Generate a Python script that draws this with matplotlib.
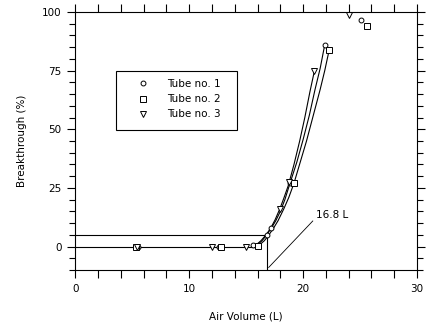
import matplotlib
matplotlib.use("Agg")
import matplotlib.pyplot as plt
from matplotlib.ticker import MultipleLocator
from matplotlib.patches import Rectangle

plt.rcParams['font.family'] = ['DejaVu Sans']
plt.rcParams['font.size'] = 7.5

# measured points
tube1_x = [5.5, 12.6, 15.6, 16.8, 17.15, 18.85, 21.9, 25.1]
tube1_y = [0.0, -0.3, 0.5, 5.1, 7.8, 27.2, 85.9, 96.7]
tube2_x = [5.3, 12.8, 16.0, 19.2, 22.3, 25.6]
tube2_y = [-0.3, -0.3, 0.3, 27.0, 84.0, 94.0]
tube3_x = [5.4, 12.0, 15.0, 17.95, 18.8, 21.0, 24.0]
tube3_y = [0.0, -0.2, 0.0, 16.2, 27.5, 75.0, 98.7]

# fitted curves
fit1_x = [15.6, 16.0, 16.4, 16.8, 17.2, 17.6, 18.0, 18.4, 18.85, 19.45, 20.0, 20.55, 21.05, 21.5, 21.9]
fit1_y = [0.0, 0.8, 2.5, 5.0, 7.8, 11.0, 15.0, 20.0, 27.0, 36.0, 45.6, 56.0, 67.0, 76.0, 86.0]
fit2_x = [15.8, 16.2, 16.6, 17.0, 17.4, 17.8, 18.3, 18.75, 19.2, 19.75, 20.3, 20.9, 21.5, 21.9, 22.3]
fit2_y = [0.0, 0.8, 2.5, 5.0, 7.8, 11.0, 16.0, 21.0, 27.0, 36.0, 45.0, 56.0, 67.0, 75.0, 84.0]
fit3_x = [15.5, 15.9, 16.3, 16.75, 17.15, 17.55, 17.95, 18.3, 18.7, 19.2, 19.7, 20.15, 20.6, 21.0]
fit3_y = [0.0, 0.8, 2.5, 5.0, 7.8, 11.5, 16.0, 20.5, 26.0, 35.0, 45.0, 55.0, 66.0, 75.0]

breakthrough_vol = 16.8
breakthrough_pct = 5.0

fig = plt.figure(figsize=(4.31, 3.27), dpi=100)
ax = fig.add_axes([0.1747, 0.1743, 0.7928, 0.789])

lw = 0.8
ax.plot(fit1_x, fit1_y, color='black', lw=lw)
ax.plot(fit2_x, fit2_y, color='black', lw=lw)
ax.plot(fit3_x, fit3_y, color='black', lw=lw)

# baseline and 5 % criterion
ax.plot([0, 15.8], [0, 0], color='black', lw=lw)
ax.plot([0, breakthrough_vol], [breakthrough_pct, breakthrough_pct], color='black', lw=lw)
ax.plot([breakthrough_vol, breakthrough_vol], [-10, breakthrough_pct], color='black', lw=lw)

mk = dict(linestyle='none', mfc='white', mec='black', mew=0.7)
ax.plot(tube1_x, tube1_y, marker='o', ms=3.5, label='Tube no. 1', **mk)
ax.plot(tube2_x, tube2_y, marker='s', ms=4, label='Tube no. 2', **mk)
ax.plot(tube3_x, tube3_y, marker='v', ms=4, label='Tube no. 3', **mk)

# label line
ax.plot([16.98, 20.85], [-8.9, 10.9], color='black', lw=0.6)
ax.text(21.1, 13.4, '16.8 L', va='center', ha='left')

ax.set_xlim(0, 30)
ax.set_ylim(-10, 100)
ax.xaxis.set_major_locator(MultipleLocator(10))
ax.xaxis.set_minor_locator(MultipleLocator(2))
ax.yaxis.set_major_locator(MultipleLocator(25))
ax.yaxis.set_minor_locator(MultipleLocator(5))
ax.tick_params(which='both', direction='out', top=True, right=True, width=0.8)
ax.tick_params(axis='x', which='both', length=6, pad=4)
ax.tick_params(axis='y', which='major', length=6, pad=4)
ax.tick_params(axis='y', which='minor', length=4)
for s in ax.spines.values():
    s.set_linewidth(0.8)

ax.set_xlabel('Air Volume (L)', labelpad=13)
ax.set_ylabel('Breakthrough (%)', labelpad=11)

ax.add_patch(Rectangle((0.119, 0.543), 0.354, 0.228, transform=ax.transAxes,
                       fill=False, edgecolor='black', lw=0.8, zorder=5))
ax.legend(loc='upper left', bbox_to_anchor=(0.183, 0.74), frameon=False,
          handlelength=1.0, handletextpad=1.8, labelspacing=0.5,
          borderpad=0, borderaxespad=0)

fig.savefig('out.png', dpi=100)
